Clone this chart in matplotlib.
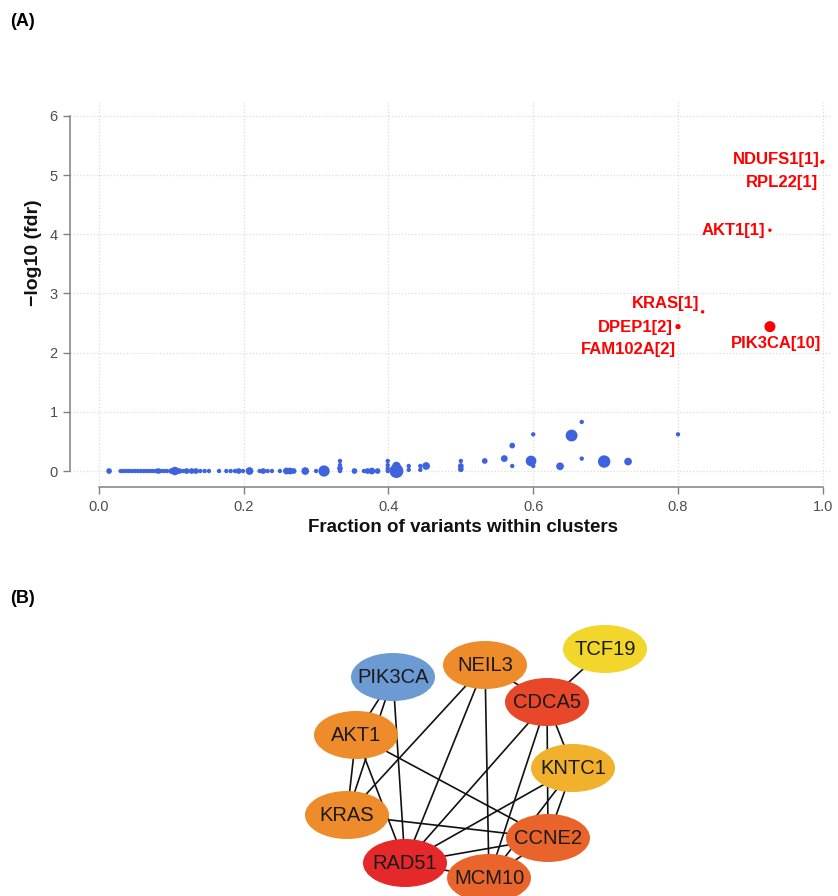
import matplotlib
matplotlib.use("Agg")
import matplotlib.pyplot as plt
from matplotlib.patches import Ellipse

plt.rcParams['font.family'] = ['Liberation Sans', 'DejaVu Sans']

# (A) clusters: fraction of variants within clusters vs -log10(fdr), size = number of variants
blue_x = [0.014, 0.030, 0.034, 0.038, 0.042, 0.046, 0.050, 0.054, 0.058, 0.062, 0.066,
          0.070, 0.074, 0.078, 0.082, 0.086, 0.090, 0.094, 0.100, 0.105, 0.111, 0.116,
          0.121, 0.128, 0.134, 0.140, 0.146, 0.152, 0.166, 0.176, 0.182, 0.188, 0.193,
          0.199, 0.208, 0.222, 0.227, 0.233, 0.239, 0.250, 0.259, 0.264, 0.269, 0.285,
          0.300, 0.311, 0.333, 0.333, 0.333, 0.333, 0.353, 0.366, 0.371, 0.377, 0.385,
          0.399, 0.399, 0.399, 0.399, 0.411, 0.411, 0.408, 0.428, 0.428, 0.444, 0.444,
          0.452, 0.500, 0.500, 0.500, 0.533, 0.560, 0.571, 0.571, 0.597, 0.600, 0.600,
          0.637, 0.653, 0.667, 0.667, 0.698, 0.731, 0.800]
blue_y = [0, 0, 0, 0, 0, 0, 0, 0, 0, 0, 0,
          0, 0, 0, 0, 0, 0, 0, 0, 0, 0, 0,
          0, 0, 0, 0, 0, 0, 0, 0, 0, 0, 0,
          0, 0, 0, 0, 0, 0, 0, 0, 0, 0, 0,
          0, 0, 0, 0.045, 0.10, 0.17, 0, 0, 0, 0, 0,
          0, 0.045, 0.10, 0.17, 0, 0.085, 0.045, 0.02, 0.085, 0.02, 0.085,
          0.085, 0.03, 0.085, 0.17, 0.17, 0.21, 0.43, 0.085, 0.17, 0.62, 0.085,
          0.08, 0.60, 0.83, 0.21, 0.16, 0.16, 0.62]
blue_n = [2, 1, 1, 1, 1, 1, 1, 1, 1, 1, 1,
          1, 1, 1, 2, 1, 1, 1, 2, 5, 2, 1,
          2, 2, 2, 1, 1, 1, 1, 1, 1, 1, 2,
          1, 4, 1, 2, 1, 1, 1, 3, 3, 2, 4,
          1, 9, 1, 2, 1, 1, 2, 1, 2, 3, 2,
          1, 1, 1, 1, 14, 5, 2, 1, 1, 1, 1,
          4, 2, 2, 1, 2, 3, 2, 1, 8, 1, 1,
          4, 10, 1, 1, 11, 4, 1]

red_genes = ['NDUFS1', 'RPL22', 'AKT1', 'KRAS', 'DPEP1', 'FAM102A', 'PIK3CA']
red_x = [1.000, 0.999, 0.927, 0.834, 0.800, 0.800, 0.927]
red_y = [5.23, 5.22, 4.07, 2.69, 2.44, 2.44, 2.44]
red_n = [1, 1, 1, 1, 2, 2, 10]

# (B) interaction network
node_names = ['TCF19', 'NEIL3', 'PIK3CA', 'CDCA5', 'AKT1', 'KNTC1', 'KRAS', 'CCNE2', 'RAD51', 'MCM10']
node_colors = ['#F2D62C', '#EE8B2B', '#6C9BD3', '#E8472A', '#EE8B2B', '#F1B12C',
               '#EE8B2B', '#E9642A', '#E5292A', '#E9652B']
edges = [('TCF19', 'CDCA5'), ('NEIL3', 'CDCA5'), ('NEIL3', 'KRAS'), ('NEIL3', 'RAD51'),
         ('NEIL3', 'MCM10'), ('PIK3CA', 'AKT1'), ('PIK3CA', 'KRAS'), ('PIK3CA', 'RAD51'),
         ('AKT1', 'KRAS'), ('AKT1', 'RAD51'), ('AKT1', 'CCNE2'), ('KRAS', 'CCNE2'),
         ('CDCA5', 'RAD51'), ('CDCA5', 'MCM10'), ('CDCA5', 'CCNE2'), ('CDCA5', 'KNTC1'),
         ('KNTC1', 'RAD51'), ('KNTC1', 'MCM10'), ('KNTC1', 'CCNE2'), ('CCNE2', 'RAD51'),
         ('CCNE2', 'MCM10'), ('RAD51', 'MCM10')]

# layout of the network (pixel space of panel B)
node_pos = {'TCF19': (605, 649), 'NEIL3': (485, 665), 'PIK3CA': (393, 677),
            'CDCA5': (547, 702), 'AKT1': (356, 735), 'KNTC1': (573, 768),
            'KRAS': (347, 815), 'CCNE2': (548, 838), 'RAD51': (405, 863),
            'MCM10': (489, 878)}

# label offsets in pixels (dx, dy, ha)
label_off = {'NDUFS1': (-3, 2, 'right'), 'RPL22': (-4, -20, 'right'), 'AKT1': (-5, 0, 'right'),
             'KRAS': (-3, 8, 'right'), 'DPEP1': (-5, -1, 'right'), 'FAM102A': (-50, -23, 'center'),
             'PIK3CA': (6, -17, 'center')}

fig = plt.figure(figsize=(8.38, 8.96), dpi=100)

ax = fig.add_axes([70 / 838, 1 - 487 / 896, 760 / 838, 387 / 896])
ax.set_xlim(-0.04, 1.01)
ax.set_ylim(-0.27, 6.27)
blue_c = '#3E63DD'
ax.scatter(blue_x, blue_y, s=[7 * n + 3 for n in blue_n], color=blue_c, linewidths=0, zorder=3)
ax.scatter(red_x, red_y, s=[6.3 * n for n in red_n], color='#FF0000', linewidths=0, zorder=3)
for g, x, y, n in zip(red_genes, red_x, red_y, red_n):
    dx, dy, ha = label_off[g]
    ax.annotate(f'{g}[{n}]', (x, y), xytext=(dx * 0.72, dy * 0.72), textcoords='offset points',
                ha=ha, va='center', color='#FF0000', fontsize=12, fontweight='bold')

ax.set_xticks([0, 0.2, 0.4, 0.6, 0.8, 1.0])
ax.set_xticklabels(['0.0', '0.2', '0.4', '0.6', '0.8', '1.0'])
ax.set_yticks(range(7))
ax.grid(True, color='#dcdcdc', linestyle=':', linewidth=0.9)
ax.set_axisbelow(True)
for s in ['top', 'right']:
    ax.spines[s].set_visible(False)
ax.spines['left'].set_bounds(0, 6)
ax.spines['bottom'].set_bounds(0, 1)
for s in ['left', 'bottom']:
    ax.spines[s].set_color('#808080')
    ax.spines[s].set_linewidth(1.1)
ax.tick_params(length=5, width=1, color='#808080', labelcolor='#4d4d4d', labelsize=10.5, pad=4)

fig.text(33 / 838, 1 - 253 / 896, '\u2212log10 (fdr)', rotation=90, ha='center', va='center',
         fontsize=14, fontweight='bold', color='#111111')
fig.text(463 / 838, 1 - 528 / 896, 'Fraction of variants within clusters', ha='center', va='center',
         fontsize=13.5, fontweight='bold', color='#111111')
fig.text(10 / 838, 1 - 22 / 896, '(A)', ha='left', va='center', fontsize=13, fontweight='bold')
fig.text(10 / 838, 1 - 598 / 896, '(B)', ha='left', va='center', fontsize=13, fontweight='bold')

# network panel
bx = fig.add_axes([0, 0, 1, 316 / 896])
bx.set_xlim(0, 838)
bx.set_ylim(896, 580)
bx.axis('off')
for a, b in edges:
    (x1, y1), (x2, y2) = node_pos[a], node_pos[b]
    bx.plot([x1, x2], [y1, y2], color='#111111', linewidth=1.2, zorder=1)
for name, col in zip(node_names, node_colors):
    x, y = node_pos[name]
    bx.add_patch(Ellipse((x, y), 84, 48, facecolor=col, edgecolor='none', zorder=2))
    bx.text(x, y, name, ha='center', va='center', fontsize=14.5, color='#1a1a1a', zorder=3)

fig.savefig('out.png', dpi=100)
